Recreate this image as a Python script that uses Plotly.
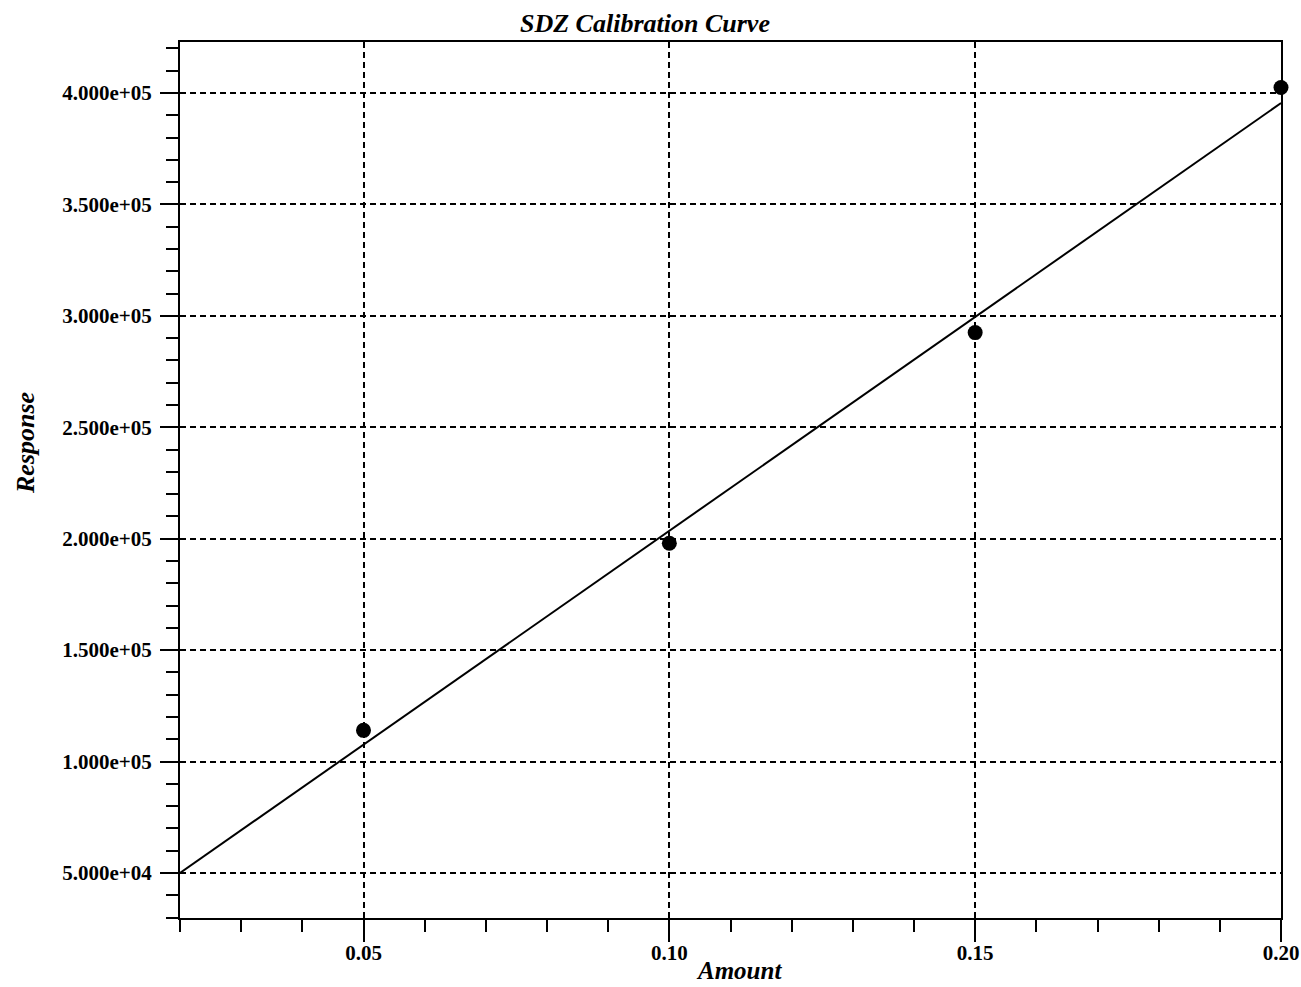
import plotly.graph_objects as go

# Data
amount = [0.05, 0.10, 0.15, 0.20]
response = [114000, 198000, 292500, 402500]

# Calibration (fit) line end points
fit_amount = [0.02, 0.20]
fit_response = [50000, 395500]

x_tickvals = [0.05, 0.10, 0.15, 0.20]
x_ticktext = ["0.05", "0.10", "0.15", "0.20"]
y_tickvals = [50000, 100000, 150000, 200000, 250000, 300000, 350000, 400000]
y_ticktext = ["5.000e+04", "1.000e+05", "1.500e+05", "2.000e+05",
              "2.500e+05", "3.000e+05", "3.500e+05", "4.000e+05"]

FONT = "Liberation Serif, Times New Roman, serif"

fig = go.Figure()
fig.add_trace(go.Scatter(x=fit_amount, y=fit_response, mode="lines",
                         line=dict(color="black", width=2),
                         showlegend=False, hoverinfo="skip"))
fig.add_trace(go.Scatter(x=amount, y=response, mode="markers",
                         marker=dict(color="black", size=15),
                         showlegend=False, cliponaxis=False))

L, R, T, B = 180, 20, 42, 69
W, H = 1301, 987
pw = W - L - R
ph = H - T - B

fig.update_layout(
    width=W, height=H,
    margin=dict(l=L, r=R, t=T, b=B, autoexpand=False),
    paper_bgcolor="white", plot_bgcolor="white",
    font=dict(family=FONT, color="black"),
    xaxis=dict(
        range=[0.02, 0.20], tickvals=x_tickvals, ticktext=x_ticktext,
        automargin=False,
        showline=True, linecolor="black", linewidth=2, mirror=True,
        ticks="outside", ticklen=22, tickwidth=2, tickcolor="black",
        ticklabelstandoff=-7,
        showgrid=True, gridcolor="black", gridwidth=2, griddash="6px,4px",
        zeroline=False,
        minor=dict(dtick=0.01, tick0=0.0, ticks="outside", ticklen=12,
                   tickwidth=2, tickcolor="black", showgrid=False),
        tickfont=dict(family=FONT, size=21, weight="bold"),
    ),
    yaxis=dict(
        range=[29800, 422900], tickvals=y_tickvals, ticktext=y_ticktext,
        automargin=False,
        showline=True, linecolor="black", linewidth=2, mirror=True,
        ticks="outside", ticklen=18, tickwidth=2, tickcolor="black",
        ticklabelstandoff=4,
        showgrid=True, gridcolor="black", gridwidth=2, griddash="6px,4px",
        zeroline=False,
        minor=dict(dtick=10000, tick0=0, ticks="outside", ticklen=12,
                   tickwidth=2, tickcolor="black", showgrid=False),
        tickfont=dict(family=FONT, size=21, weight="bold"),
    ),
    annotations=[
        dict(text="<b><i>SDZ Calibration Curve</i></b>", xref="paper", yref="paper",
             x=(645 - L) / pw, y=(H - B - 24) / ph, xanchor="center", yanchor="middle",
             showarrow=False, font=dict(family=FONT, size=26, color="black")),
        dict(text="<b><i>Amount</i></b>", xref="paper", yref="paper",
             x=(739 - L) / pw, y=(H - B - 986) / ph, xanchor="center", yanchor="bottom",
             showarrow=False, font=dict(family=FONT, size=25, color="black")),
        dict(text="<b><i>Response</i></b>", xref="paper", yref="paper",
             x=(25 - L) / pw, y=(H - B - 443) / ph, xanchor="center", yanchor="middle",
             textangle=-90, showarrow=False, font=dict(family=FONT, size=26, color="black")),
    ],
)

fig.write_html("out.html")
